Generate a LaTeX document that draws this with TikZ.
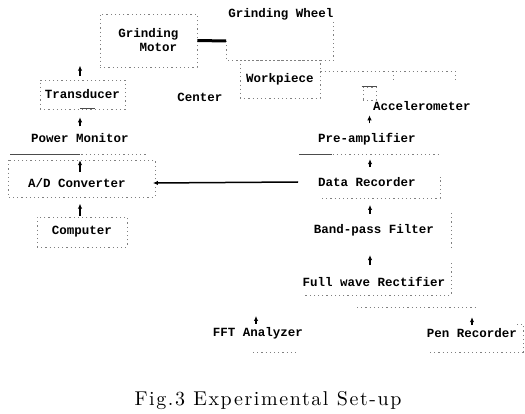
\documentclass[tikz,border=0pt]{standalone}
\usepackage{fontspec}
\usepackage{tikz}
\usetikzlibrary{arrows.meta}
\newfontfamily\setupfont{Liberation Mono}
\newfontfamily\capfont{lmroman10-regular.otf}[LetterSpace=8]

\begin{document}
\begin{tikzpicture}[x=1pt,y=-1pt]
      \tikzset{lbl/.style={inner sep=0pt,
          font=\setupfont\bfseries\fontsize{12.5}{14}\selectfont},
        frame/.style={draw=black!50, line width=0.6pt,
          dash pattern=on 1.2pt off 3pt},
        rule/.style={draw=black!70, line width=0.7pt},
        shaft/.style={line width=3pt},
        sig/.style={-{Latex[length=5pt,width=4.5pt]}, line width=1.5pt}
      }
      \useasboundingbox (0,0) rectangle (525,414);

      % grinding machine
      \node [lbl,frame,minimum width=97,minimum height=53,align=center] (motor) at (148.5,40.5) {Grinding\\\hspace*{20pt}Motor};
      \node [lbl] (wheel) at (281,14) {Grinding Wheel};
      \coordinate (hub) at (226,41);
      \draw [shaft] (motor.east) -- (hub);
      \draw [frame] (hub) |- ([shift={(0,46)}]wheel.east) -- ([shift={(0,8)}]wheel.east);
      \node [lbl,frame,minimum width=80,minimum height=38] (work) at (280,79) {Workpiece};
      \node [lbl] (ctr) at (200,97) {Center};

      % accelerometer on the workpiece
      \draw [frame] ([shift={(0,-8)}]work.east) -- (455,71) -- (455,80);
      \draw [frame] (393,71) -- (393,80);
      \node [frame,minimum size=13,inner sep=0pt] (acc) at (369.5,93.5) {};
      \draw [rule,line width=1.5pt] ([xshift=-1]acc.north west) -- ([xshift=1]acc.north east);
      \node [lbl,anchor=west] (acclbl) at (373,106) {Accelerometer};
      \draw [sig] (acc.south) ++(0,23) -- ++(0,-8);

      % left branch
      \node [lbl,frame,minimum width=85,minimum height=29] (trans) at (82.5,94.5) {Transducer};
      \draw [sig] (trans.north) ++(-2.5,-4) -- ++(0,-10);
      \draw [rule] ([xshift=-2.5]trans.south) ++(0,-1) -- ++(15,0);
      \draw [sig] (trans.south) ++(-2.5,17) -- ++(0,-9);
      \node [lbl] (power) at (80,138) {Power Monitor};
      \draw [frame] (10,154) -- (147,154);
      \draw [rule] (10,154) -- (80,154);
      \node [lbl] (adc) at (77,183) {A/D Converter};
      \draw [frame] (8,160) rectangle (155,197);
      \draw [sig] (adc.north) ++(3,-6) -- ++(0,-12);
      \node [lbl,frame,minimum width=90,minimum height=30] (comp) at (82,232) {Computer};
      \draw [sig] (comp.north) ++(-2,-1) -- ++(0,-12);

      % right branch
      \node [lbl] (pre) at (367,139) {Pre-amplifier};
      \draw [frame] (299,154) -- (439,154);
      \draw [rule] (299,154) -- (332,154);
      \node [lbl] (data) at (367,182) {Data Recorder};
      \draw [frame] (322,198) -| (440,177);
      \draw [sig] (data.north) ++(3,-10) -- ++(0,-8);
      \draw [sig] ([xshift=-20]data.west) -- ([xshift=27]adc.east);
      \node [lbl] (band) at (374,230) {Band-pass Filter};
      \draw [frame] (451,213) -- (451,247);
      \draw [sig] (band.north) ++(-4,-10) -- ++(0,-9);
      \node [lbl] (rect) at (374,282) {Full wave Rectifier};
      \draw [frame] (451,263) |- (303,295);
      \draw [sig] (rect.north) ++(-4,-12) -- ++(0,-10);
      \draw [frame] (357,307) -- (477,307);

      % outputs
      \node [lbl] (fft) at (258,333) {FFT Analyzer};
      \draw [sig] (fft.north) ++(-2,-3) -- ++(0,-8);
      \draw [frame] (253,352) -- (297,352);
      \node [lbl] (pen) at (472,333) {Pen Recorder};
      \draw [sig] (pen.north) ++(0,-3) -- ++(0,-8);
      \draw [frame] (430,352) -| (523,324) -- (515,324);

      \node [font=\capfont\fontsize{20}{24}\selectfont] (cap) at (268,401) {Fig.3 Experimental Set-up};
    \end{tikzpicture}
\end{document}
